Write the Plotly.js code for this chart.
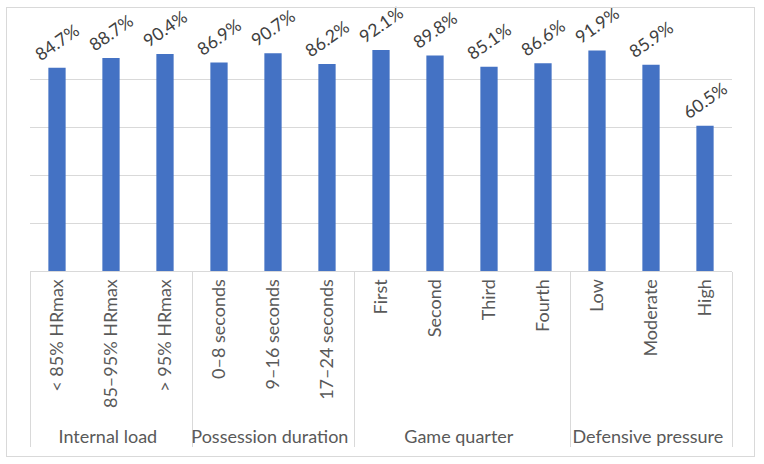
<!DOCTYPE html>
<html><head><meta charset="utf-8">
<script src="https://cdn.plot.ly/plotly-3.0.1.min.js"></script>
<style>
html,body{margin:0;padding:0;background:#fff;}
#wrap{position:relative;width:764px;height:464px;}
#chart{position:absolute;left:0;top:0;width:764px;height:464px;}
#frame{position:absolute;left:6px;top:7px;width:747px;height:448px;border:1px solid #d9d9d9;pointer-events:none;}
</style>
</head><body>
<div id="wrap"><div id="chart"></div><div id="frame"></div></div>
<script>
var groups = ["Internal load","Internal load","Internal load",
  "Possession duration","Possession duration","Possession duration",
  "Game quarter","Game quarter","Game quarter","Game quarter",
  "Defensive pressure","Defensive pressure","Defensive pressure"];
var categories = ["< 85% HRmax","85–95% HRmax","> 95% HRmax",
  "0–8 seconds","9–16 seconds","17–24 seconds",
  "First","Second","Third","Fourth",
  "Low","Moderate","High"];
var values = [84.7, 88.7, 90.4, 86.9, 90.7, 86.2, 92.1, 89.8, 85.1, 86.6, 91.9, 85.9, 60.5];
var labels = values.map(function(v){return v.toFixed(1)+"%";});

var font = "Lato, 'Open Sans', sans-serif";
var trace = {
  type: "bar",
  x: [groups, categories],
  y: values,
  text: labels,
  textposition: "outside",
  textangle: -35,
  constraintext: "none",
  cliponaxis: false,
  textfont: {family: font, size: 17.5, color: "#404040"},
  marker: {color: "#4472C4"},
  hoverinfo: "none"
};
var layout = {
  width: 764, height: 464,
  margin: {l: 30, r: 32, t: 31, b: 193, pad: 0},
  paper_bgcolor: "rgba(0,0,0,0)",
  plot_bgcolor: "#fff",
  showlegend: false,
  bargap: 0.68,
  font: {family: font, color: "#595959", size: 17},
  xaxis: {
    type: "multicategory",
    tickangle: -90,
    showline: true, linecolor: "#d9d9d9", linewidth: 1,
    ticks: "", showgrid: false,
    showdividers: true, dividercolor: "#d9d9d9", dividerwidth: 1,
    tickfont: {family: font, size: 18, color: "#595959"}
  },
  yaxis: {
    range: [0, 100], dtick: 20,
    showticklabels: false, ticks: "",
    showgrid: true, gridcolor: "#d9d9d9", gridwidth: 1,
    zeroline: false, showline: false
  }
};
Plotly.newPlot("chart", [trace], layout, {displayModeBar: false, staticPlot: true});
</script>
</body></html>
